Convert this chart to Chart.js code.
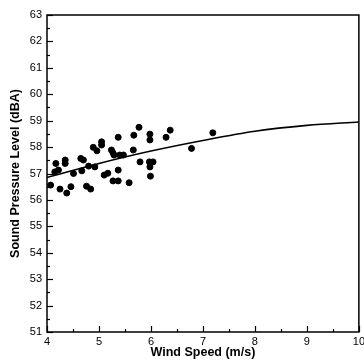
<!DOCTYPE html>
<html>
<head>
<meta charset="utf-8">
<script src="https://cdn.jsdelivr.net/npm/chart.js@4"></script>
<style>
  html, body { margin: 0; padding: 0; background: #fff; overflow: hidden; }
  #wrap { width: 368px; height: 360px; }
</style>
</head>
<body>
<div id="wrap"><canvas id="splChart" width="368" height="360"></canvas></div>
<script>
// measured wind speed (m/s) and sound pressure level (dBA)
const windSpeed = [
  4.07, 4.25, 4.38, 4.46, 4.76, 4.84, 5.27, 5.37, 5.58, 5.10,
  5.17, 5.37, 5.99, 4.51, 4.67, 4.15, 4.22, 4.80, 4.92, 4.17,
  4.35, 4.35, 4.65, 4.70, 4.89, 4.96, 5.05, 5.05, 5.24, 5.27,
  5.29, 5.37, 5.40, 5.47, 5.66, 5.67, 5.77, 5.79, 5.98, 5.98,
  5.97, 6.04, 5.98, 6.29, 6.37, 6.78, 7.19
];
const soundLevel = [
  56.56, 56.41, 56.26, 56.50, 56.52, 56.41, 56.72, 56.72, 56.65, 56.94,
  57.01, 57.13, 56.90, 57.00, 57.10, 57.06, 57.13, 57.28, 57.25, 57.38,
  57.51, 57.38, 57.57, 57.51, 57.99, 57.86, 58.20, 58.08, 57.89, 57.78,
  57.70, 58.37, 57.70, 57.70, 57.89, 58.45, 58.75, 57.44, 58.49, 58.27,
  57.44, 57.44, 57.25, 58.37, 58.64, 57.95, 58.54
];

// fitted curve
const fitSpeed = [4, 5, 6, 7, 8, 9, 10];
const fitLevel = [56.85, 57.38, 57.85, 58.25, 58.6, 58.82, 58.95];

const xMin = 4, xMax = 10;
const yMin = 51, yMax = 63;

// inward tick marks + frame, like the original plot
const frameTicks = {
  id: 'frameTicks',
  afterDraw(chart) {
    const { ctx, chartArea: a, scales } = chart;
    ctx.save();
    ctx.strokeStyle = '#000';
    ctx.lineWidth = 1.5;
    ctx.strokeRect(a.left, a.top, a.right - a.left, a.bottom - a.top);
    ctx.lineWidth = 1.2;
    for (let v = xMin; v <= xMax; v += 0.5) {
      const px = Math.round(scales.x.getPixelForValue(v)) + 0.5;
      const len = Number.isInteger(v) ? 6 : 3;
      ctx.beginPath();
      ctx.moveTo(px, a.bottom);
      ctx.lineTo(px, a.bottom - len);
      ctx.stroke();
    }
    for (let v = yMin; v <= yMax; v += 0.5) {
      const py = Math.round(scales.y.getPixelForValue(v)) + 0.5;
      const len = Number.isInteger(v) ? 6 : 3;
      ctx.beginPath();
      ctx.moveTo(a.left, py);
      ctx.lineTo(a.left + len, py);
      ctx.stroke();
    }
    ctx.restore();
  }
};

const tickFont = { family: 'Liberation Sans, Arial, sans-serif', size: 11 };
const titleFont = { family: 'Liberation Sans, Arial, sans-serif', size: 12.5, weight: 'bold' };

new Chart(document.getElementById('splChart').getContext('2d'), {
  type: 'scatter',
  data: {
    datasets: [
      {
        label: 'Fit',
        type: 'line',
        data: fitSpeed.map((x, i) => ({ x: x, y: fitLevel[i] })),
        borderColor: '#000',
        borderWidth: 1.6,
        pointRadius: 0,
        cubicInterpolationMode: 'monotone',
        fill: false,
      },
      {
        label: 'Measured',
        data: windSpeed.map((x, i) => ({ x: x, y: soundLevel[i] })),
        backgroundColor: '#000',
        borderColor: '#000',
        pointRadius: 3,
        pointHoverRadius: 3,
      },
    ],
  },
  options: {
    responsive: false,
    animation: false,
    layout: { padding: { top: 15, right: 0, left: 0, bottom: 0 } },
    plugins: { legend: { display: false }, tooltip: { enabled: false } },
    scales: {
      x: {
        type: 'linear',
        min: xMin,
        max: xMax,
        grid: { display: false, drawTicks: false },
        border: { display: false },
        ticks: { stepSize: 1, color: '#000', font: tickFont, padding: 3, maxRotation: 0 },
        title: { display: true, text: 'Wind Speed (m/s)', color: '#000', font: titleFont, padding: 0 },
        afterFit(scale) { scale.height = 28; },
      },
      y: {
        min: yMin,
        max: yMax,
        grid: { display: false, drawTicks: false },
        border: { display: false },
        ticks: { stepSize: 1, color: '#000', font: tickFont, padding: 5 },
        title: { display: true, text: 'Sound Pressure Level (dBA)', color: '#000', font: titleFont, padding: { top: 8, bottom: 0 } },
        afterFit(scale) { scale.width = 47; },
      },
    },
  },
  plugins: [frameTicks],
});
</script>
</body>
</html>
